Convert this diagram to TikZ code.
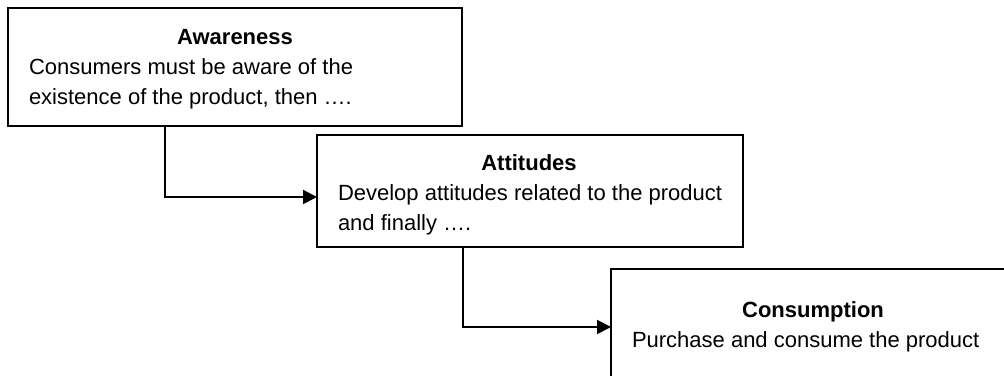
\documentclass[tikz,border=0pt]{standalone}
\usepackage{fontspec}
\setmainfont{Liberation Sans}
\usetikzlibrary{arrows.meta,calc}
\definecolor{LineClr}{rgb}{0,0,0}

\begin{document}
\begin{tikzpicture}[x=0.5bp,y=0.5bp,
  font=\fontsize{11bp}{15bp}\selectfont,
  stagebox/.style={draw=LineClr,line width=1bp,anchor=north west,align=left,
    inner xsep=10.5bp,inner ysep=0pt,outer sep=0pt},
  flow/.style={draw=LineClr,line width=1bp,-{Triangle[length=7bp,width=7bp]}}]
\useasboundingbox (0,0) rectangle (1004,-376);
\clip (0,0) rectangle (1004,-376);

\node[stagebox,minimum width=227bp,minimum height=59bp,line width=1.3bp] (aware) at (8,-8)
  {\makebox[206bp]{\rule{0pt}{10bp}\bfseries Awareness}\\Consumers must be aware of the\\existence of the product, then ….};
\node[stagebox,minimum width=212bp,minimum height=56bp] (attit) at (317,-135)
  {\makebox[191bp]{\rule{0pt}{12bp}\bfseries Attitudes}\\Develop attitudes related to the product\\and finally ….};
\node[stagebox,minimum width=202bp,minimum height=58bp] (consum) at (611,-269)
  {\makebox[181bp]{\bfseries Consumption}\\Purchase and consume the product};

\draw[flow] ($(aware.south west)+(157,0)$) |- ($(attit.west)+(0,-6)$);
\draw[flow] ($(attit.south west)+(146,0)$) |- (consum.west);
\end{tikzpicture}
\end{document}
